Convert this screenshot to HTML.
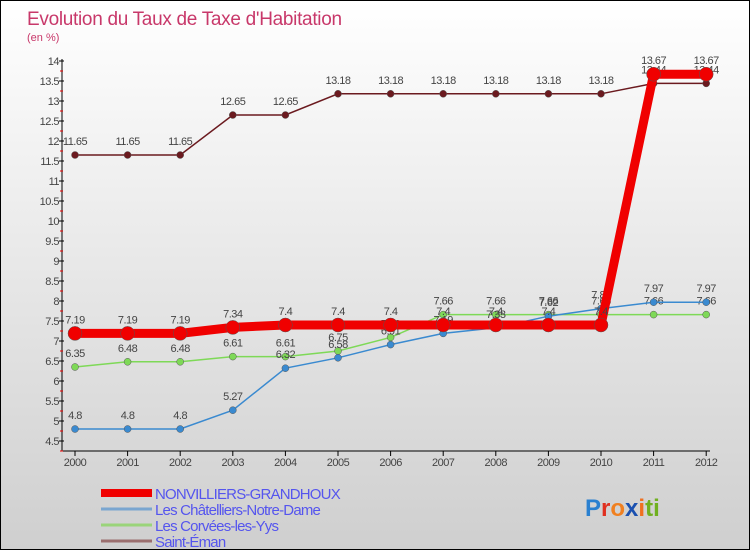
<!DOCTYPE html>
<html><head><meta charset="utf-8"><style>
body{margin:0}
#c{width:748px;height:548px;border:1px solid #000;background:linear-gradient(#fff,#cfcfcf);position:relative;font-family:"Liberation Sans",sans-serif}
</style></head><body>
<div id="c">
<svg id="s" width="748" height="548" style="position:absolute;left:0;top:0"></svg>
</div>
<script>
const years=["2000","2001","2002","2003","2004","2005","2006","2007","2008","2009","2010","2011","2012"];
const nonvilliers=[7.19,7.19,7.19,7.34,7.4,7.4,7.4,7.4,7.4,7.4,7.4,13.67,13.67];
const chatelliers=[4.8,4.8,4.8,5.27,6.32,6.58,6.91,7.19,7.33,7.62,7.81,7.97,7.97];
const corvees=[6.35,6.48,6.48,6.61,6.61,6.75,7.09,7.66,7.66,7.66,7.66,7.66,7.66];
const saintEman=[11.65,11.65,11.65,12.65,12.65,13.18,13.18,13.18,13.18,13.18,13.18,13.44,13.44];
const yTicks=[4.5,5,5.5,6,6.5,7,7.5,8,8.5,9,9.5,10,10.5,11,11.5,12,12.5,13,13.5,14];
const S=document.getElementById('s'),NS='http://www.w3.org/2000/svg';
const X=i=>74+i*52.6, Y=v=>60+(14-v)*40;
function el(t,a,txt){const e=document.createElementNS(NS,t);for(const k in a)e.setAttribute(k,a[k]);if(txt!=null)e.textContent=txt;S.appendChild(e);return e;}
let t=el('text',{x:26,y:24,fill:'#c8386a','font-size':19,'letter-spacing':'-0.3'},"Evolution du Taux de Taxe d'Habitation");


t=el('text',{x:26,y:40,fill:'#c8386a','font-size':11},"(en %)");


let a=el('line',{x1:61,y1:58,x2:61,y2:450,stroke:'#000'});


a=el('line',{x1:61,y1:450,x2:709,y2:450,stroke:'#000'});


yTicks.forEach(v=>{const y=Y(v);
 const tk=el('line',{x1:58,y1:y,x2:63,y2:y,stroke:'#000'});
 
 
 const m=el('line',{x1:59,y1:y+10,x2:62,y2:y+10,stroke:'#e00'});
 
 
 const l=el('text',{x:58,y:y+4,'text-anchor':'end','font-size':11,fill:'#444','letter-spacing':'-0.5'},String(v));
 
 });
years.forEach((yr,i)=>{
 const tk=el('line',{x1:X(i),y1:450,x2:X(i),y2:455,stroke:'#000'});
 
 
 const l=el('text',{x:X(i),y:465,'text-anchor':'middle','font-size':11,fill:'#444','letter-spacing':'-0.5'},yr);
 
 });
function series(d,color,w,r,name){
 const p=el('polyline',{points:d.map((v,i)=>X(i)+','+Y(v)).join(' '),fill:'none',stroke:color,'stroke-width':w});
 
 
 d.forEach((v,i)=>{
  const c=el('circle',{cx:X(i),cy:Y(v),r:r,fill:color,stroke:'#555','stroke-width':0.5});
  
  
  const l=el('text',{x:X(i),y:Y(v)-10,'text-anchor':'middle','font-size':11,fill:'#444','letter-spacing':'-0.5'},String(v));
  
  });
}
series(saintEman,'#6b1a1f',1.5,3.5,'saint-eman');
series(corvees,'#7ed957',1.5,3.5,'corvees');
series(chatelliers,'#3a8ad0',1.5,3.5,'chatelliers');
series(nonvilliers,'#f00000',9,7,'nonvilliers');
const leg=[['NONVILLIERS-GRANDHOUX','#f00000',8],['Les Châtelliers-Notre-Dame','#7aa6d0',3],['Les Corvées-les-Yys','#9ad47a',3],['Saint-Éman','#9a6e6e',3]];
leg.forEach((L,i)=>{const y=492+i*16;
 const ln=el('line',{x1:100,y1:y,x2:151,y2:y,stroke:L[1],'stroke-width':L[2]});
 
 
 const tx=el('text',{x:154,y:y+6,'font-size':15,fill:'#5555ee','letter-spacing':'-0.8'},L[0]);
 
 });
const g=el('text',{x:584,y:515,'font-size':24,'font-weight':'bold'});


"Proxiti".split('').forEach((ch,i)=>{const ts=document.createElementNS(NS,'tspan');ts.setAttribute('fill',['#2a80d0','#e03020','#f08020','#1a50b0','#f07020','#70b020','#70b020'][i]);ts.textContent=ch;g.appendChild(ts);});
</script>
</body></html>
